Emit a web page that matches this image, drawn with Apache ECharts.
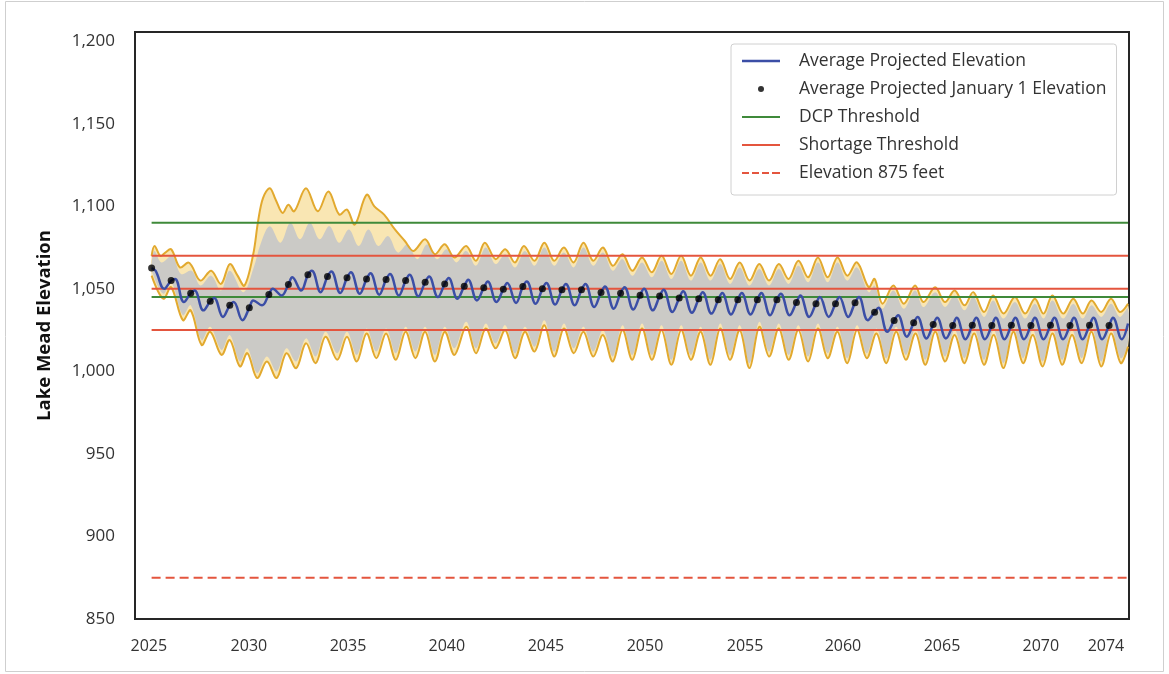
<!DOCTYPE html>
<html><head><meta charset="utf-8">
<script src="https://cdn.jsdelivr.net/npm/echarts@6/dist/echarts.min.js"></script>
<style>html,body{margin:0;padding:0;background:#fff;}#c{width:1169px;height:674px;}</style>
</head><body><div id="c"></div>
<script>
// ---------- data ----------
const years = [2025,2026,2027,2028,2029,2030,2031,2032,2033,2034,2035,2036,2037,2038,2039,2040,2041,2042,2043,2044,2045,2046,2047,2048,2049,2050,2051,2052,2053,2054,2055,2056,2057,2058,2059,2060,2061,2062,2063,2064,2065,2066,2067,2068,2069,2070,2071,2072,2073,2074];
// Average projected January 1 elevation (black dots)
const janElev = [1062.6,1055,1047.4,1042.5,1040,1038.5,1046.6,1052.7,1058.6,1057.5,1056.7,1056,1055.7,1055,1054,1053,1051.6,1050.7,1049.8,1051.5,1050,1049.5,1049.5,1047.8,1047.4,1046.2,1045.6,1044.4,1044,1043.4,1043.4,1043.4,1043.4,1041.8,1041,1041,1041.6,1035.9,1030.8,1029.4,1028.4,1027.8,1028,1027.8,1028,1027.8,1028,1027.8,1028,1027.8];
// Average projected elevation: spring high and late-summer low of each year
const springHigh = [1061,1056,1049,1044.5,1042,1043,1050,1057,1061,1060.5,1060,1059.5,1059,1058.5,1057.5,1056.5,1055.5,1054.5,1053.5,1054.5,1053.5,1053,1053,1051.5,1051,1050,1049.5,1048.5,1048,1047.5,1047.5,1047.5,1047,1046,1045,1045,1045,1038.5,1034,1033,1032.5,1032.5,1032.5,1032.5,1032.5,1032.5,1032.5,1032.5,1032.5,1032.5];
const summerLow = [1050,1042,1037,1033,1031,1040,1046,1049,1048,1047.5,1047,1046.5,1046,1045.5,1045,1044,1043,1042,1041.5,1041,1040.5,1040,1039,1038,1037.5,1037,1036,1035.5,1035,1034.5,1034.5,1034,1034,1033,1033,1033,1031,1024,1021,1020,1020,1019.5,1019.5,1019.5,1019.5,1019.5,1019.5,1019.5,1019.5,1019.5];
const lastElev = [2074.97, 1029];
// Envelope of all traces (gold outline), [year, elevation]
const upperEnv = [[2025.0,1070],[2025.15,1076],[2025.45,1070],[2025.7,1072],[2026.0,1074],[2026.45,1063],[2026.87,1066],[2027.05,1064],[2027.5,1055],[2028.05,1061],[2028.55,1053],[2029.0,1065],[2029.4,1058],[2029.75,1052],[2030.2,1071],[2030.45,1091],[2030.7,1105],[2031.05,1111],[2031.35,1104],[2031.7,1096],[2032.0,1101],[2032.3,1097],[2032.9,1111],[2033.5,1097],[2034.05,1109],[2034.6,1095],[2035.0,1098],[2035.4,1089],[2036.0,1107],[2036.4,1100],[2036.9,1095],[2037.45,1086],[2037.96,1079],[2038.4,1073],[2039.0,1080],[2039.5,1071],[2040.0,1077],[2040.5,1069],[2041.1,1076],[2041.6,1067],[2042.05,1078],[2042.6,1068],[2043.1,1074],[2043.6,1066],[2044.05,1076],[2044.6,1067],[2045.1,1078],[2045.6,1067],[2046.1,1075],[2046.6,1066],[2047.1,1078],[2047.6,1067],[2048.1,1075],[2048.6,1064],[2049.1,1071],[2049.6,1061],[2050.1,1069],[2050.6,1060],[2051.1,1070],[2051.6,1059],[2052.1,1070],[2052.6,1058],[2053.1,1069],[2053.6,1058],[2054.1,1068],[2054.6,1056],[2055.1,1066],[2055.6,1055],[2056.1,1065],[2056.6,1055],[2057.1,1065],[2057.6,1056],[2058.1,1067],[2058.6,1057],[2059.1,1069],[2059.6,1057],[2060.1,1069],[2060.6,1058],[2061.1,1066],[2061.7,1051],[2062.0,1056],[2062.4,1041],[2062.96,1052],[2063.5,1041],[2064.07,1052],[2064.5,1042],[2065.1,1051],[2065.6,1042],[2066.1,1049],[2066.6,1040],[2067.05,1048],[2067.6,1036],[2068.07,1046],[2068.6,1035],[2069.18,1045],[2069.7,1035],[2070.2,1044],[2070.65,1035],[2071.1,1046],[2071.65,1035],[2072.17,1044],[2072.65,1035],[2073.1,1043],[2073.6,1036],[2074.1,1044],[2074.55,1036],[2074.97,1041]];
const lowerEnv = [[2025.0,1058],[2025.6,1044],[2026.0,1051],[2026.6,1031],[2027.0,1037],[2027.56,1016],[2028.0,1024],[2028.58,1010],[2029.0,1019],[2029.52,1003],[2029.9,1011],[2030.4,996],[2030.9,1006],[2031.4,996],[2031.9,1011],[2032.4,1002],[2032.9,1017],[2033.4,1005],[2033.9,1021],[2034.5,1007],[2035.0,1021],[2035.5,1006],[2036.0,1023],[2036.5,1008],[2037.0,1023],[2037.5,1007],[2038.0,1024],[2038.5,1008],[2039.0,1024],[2039.5,1006],[2040.0,1024],[2040.5,1010],[2041.1,1027],[2041.6,1011],[2042.1,1026],[2042.6,1014],[2043.1,1025],[2043.6,1008],[2044.1,1024],[2044.6,1012],[2045.1,1028],[2045.6,1009],[2046.1,1026],[2046.6,1011],[2047.1,1024],[2047.6,1009],[2048.1,1022],[2048.6,1006],[2049.1,1025],[2049.6,1007],[2050.1,1026],[2050.6,1007],[2051.1,1025],[2051.6,1004],[2052.1,1025],[2052.6,1007],[2053.1,1024],[2053.6,1004],[2054.1,1026],[2054.6,1007],[2055.1,1025],[2055.6,1002],[2056.1,1027],[2056.6,1009],[2057.1,1026],[2057.6,1007],[2058.1,1025],[2058.6,1006],[2059.1,1026],[2059.6,1008],[2060.1,1024],[2060.6,1005],[2061.1,1025],[2061.6,1008],[2062.1,1023],[2062.6,1005],[2063.1,1024],[2063.6,1007],[2064.1,1023],[2064.6,1004],[2065.1,1024],[2065.6,1006],[2066.1,1022],[2066.6,1005],[2067.1,1023],[2067.6,1004],[2068.1,1022],[2068.6,1002],[2069.1,1024],[2069.6,1005],[2070.1,1022],[2070.6,1003],[2071.1,1023],[2071.6,1004],[2072.1,1022],[2072.6,1005],[2073.1,1024],[2073.6,1003],[2074.1,1023],[2074.6,1005],[2074.97,1015]];
// Dense grey trace region inside the envelope
const grayTop = [[2025.0,1066],[2025.15,1073],[2025.5,1066],[2026.05,1070],[2026.5,1059],[2027.05,1061],[2027.5,1052],[2028.05,1058],[2028.55,1049],[2029.0,1061],[2029.7,1048],[2030.2,1062],[2030.6,1078],[2031.05,1088],[2031.6,1078],[2032.1,1090],[2032.6,1080],[2033.1,1090],[2033.6,1080],[2034.1,1088],[2034.6,1078],[2035.1,1086],[2035.6,1076],[2036.1,1086],[2036.6,1076],[2037.1,1082],[2037.6,1072],[2038.1,1077],[2038.6,1068],[2039.1,1077],[2039.6,1068],[2040.1,1074],[2040.6,1066],[2041.1,1073],[2041.6,1064],[2042.1,1075],[2042.6,1065],[2043.1,1071],[2043.6,1063],[2044.1,1073],[2044.6,1064],[2045.1,1075],[2045.6,1064],[2046.1,1072],[2046.6,1063],[2047.1,1075],[2047.6,1064],[2048.1,1072],[2048.6,1061],[2049.1,1068],[2049.6,1058],[2050.1,1066],[2050.6,1057],[2051.1,1067],[2051.6,1056],[2052.1,1067],[2052.6,1055],[2053.1,1066],[2053.6,1055],[2054.1,1065],[2054.6,1053],[2055.1,1063],[2055.6,1052],[2056.1,1062],[2056.6,1052],[2057.1,1062],[2057.6,1053],[2058.1,1064],[2058.6,1054],[2059.1,1066],[2059.6,1054],[2060.1,1066],[2060.6,1055],[2061.1,1063],[2061.7,1048],[2062.0,1052],[2062.4,1038],[2062.96,1049],[2063.5,1038],[2064.07,1049],[2064.5,1039],[2065.1,1048],[2065.6,1039],[2066.1,1046],[2066.6,1037],[2067.05,1045],[2067.6,1033],[2068.07,1043],[2068.6,1032],[2069.18,1042],[2069.7,1032],[2070.2,1041],[2070.65,1032],[2071.1,1043],[2071.65,1032],[2072.17,1041],[2072.65,1032],[2073.1,1040],[2073.6,1033],[2074.1,1041],[2074.55,1033],[2074.97,1038]];
const grayBottom = [[2025.0,1061],[2025.6,1047],[2026.0,1054],[2026.6,1034],[2027.0,1040],[2027.56,1019],[2028.0,1027],[2028.58,1013],[2029.0,1022],[2029.52,1006],[2029.9,1014],[2030.4,999],[2030.9,1009],[2031.4,1000],[2031.9,1014],[2032.4,1006],[2032.9,1020],[2033.4,1009],[2033.9,1024],[2034.5,1011],[2035.0,1024],[2035.5,1010],[2036.0,1026],[2036.5,1012],[2037.0,1026],[2037.5,1011],[2038.0,1027],[2038.5,1012],[2039.0,1027],[2039.5,1010],[2040.0,1027],[2040.5,1014],[2041.1,1030],[2041.6,1014],[2042.1,1029],[2042.6,1017],[2043.1,1028],[2043.6,1011],[2044.1,1027],[2044.6,1015],[2045.1,1031],[2045.6,1012],[2046.1,1029],[2046.6,1014],[2047.1,1027],[2047.6,1012],[2048.1,1025],[2048.6,1009],[2049.1,1028],[2049.6,1010],[2050.1,1029],[2050.6,1010],[2051.1,1028],[2051.6,1007],[2052.1,1028],[2052.6,1010],[2053.1,1027],[2053.6,1007],[2054.1,1029],[2054.6,1010],[2055.1,1028],[2055.6,1005],[2056.1,1030],[2056.6,1012],[2057.1,1029],[2057.6,1010],[2058.1,1028],[2058.6,1009],[2059.1,1029],[2059.6,1011],[2060.1,1027],[2060.6,1008],[2061.1,1028],[2061.6,1011],[2062.1,1026],[2062.6,1008],[2063.1,1027],[2063.6,1010],[2064.1,1026],[2064.6,1007],[2065.1,1027],[2065.6,1009],[2066.1,1025],[2066.6,1008],[2067.1,1026],[2067.6,1007],[2068.1,1025],[2068.6,1005],[2069.1,1027],[2069.6,1008],[2070.1,1025],[2070.6,1006],[2071.1,1026],[2071.6,1007],[2072.1,1025],[2072.6,1008],[2073.1,1027],[2073.6,1006],[2074.1,1026],[2074.6,1008],[2074.97,1018]];
// Thresholds
const dcpThresholds = [1090, 1045];
const shortageThresholds = [1070, 1050, 1025];
const elev875 = 875;
const lineSpan = [2025.0, 2074.97];
// Axis ticks
const yTicks = [850, 900, 950, 1000, 1050, 1100, 1150, 1200];
const xTickLabels = ['2025','2030','2035','2040','2045','2050','2055','2060','2065','2070','2074'];
const xTickPos = [2024.86, 2029.98, 2035.05, 2040.11, 2045.18, 2050.25, 2055.37, 2060.38, 2065.45, 2070.51, 2073.84];

// ---------- build ----------
const FONT = 'Open Sans';
const avgLine = [];
years.forEach((y, i) => {
  avgLine.push([y, janElev[i]]);
  avgLine.push([y + 0.2, springHigh[i]]);
  avgLine.push([y + 0.65, summerLow[i]]);
});
avgLine.push(lastElev);
const dots = years.map((y, i) => [y, janElev[i]]);

function bandSeries(top, bottom, fill, stroke, z) {
  return {
    type: 'custom', silent: true, z: z, clip: true,
    data: [[2050, 1040]], encode: { x: 0, y: 1 },
    renderItem: function (params, api) {
      const tp = top.map(p => api.coord(p));
      const bp = bottom.map(p => api.coord(p));
      const children = [{
        type: 'polygon',
        shape: { points: tp.concat(bp.slice().reverse()), smooth: 0.35 },
        style: { fill: fill, stroke: 'none' }
      }];
      if (stroke) {
        children.push({ type: 'polyline', shape: { points: tp, smooth: 0.35 }, style: { fill: 'none', stroke: stroke, lineWidth: 2 } });
        children.push({ type: 'polyline', shape: { points: bp, smooth: 0.35 }, style: { fill: 'none', stroke: stroke, lineWidth: 2 } });
      }
      return { type: 'group', children: children };
    }
  };
}
function hLine(name, v, color, type) {
  return {
    name: name, type: 'line', z: 3, symbol: 'none', silent: true,
    data: [[lineSpan[0], v], [lineSpan[1], v]],
    lineStyle: { color: color, width: 2, type: type || 'solid' },
    itemStyle: { color: color }
  };
}
const BLUE = '#3b4ea6', GREEN = '#3f8a3a', RED = '#e4553e', GOLD = '#e2a92e';
const series = [
  bandSeries(upperEnv, lowerEnv, '#f9e6b3', null, 1),
  bandSeries(grayTop, grayBottom, '#cbcac6', null, 2),
  bandSeries(upperEnv, lowerEnv, 'rgba(0,0,0,0)', GOLD, 2),
];
dcpThresholds.forEach(v => series.push(hLine('DCP Threshold', v, GREEN)));
shortageThresholds.forEach(v => series.push(hLine('Shortage Threshold', v, RED)));
series.push(hLine('Elevation 875 feet', elev875, RED, [9, 5]));
series.push({
  name: 'Average Projected Elevation', type: 'line', z: 4, symbol: 'none', smooth: 0.4,
  data: avgLine, lineStyle: { color: BLUE, width: 2.5 }, itemStyle: { color: BLUE }
});
series.push({
  name: 'Average Projected January 1 Elevation', type: 'scatter', z: 5, symbolSize: 7,
  data: dots, itemStyle: { color: '#000' }
});

const chart = echarts.init(document.getElementById('c'), null, { renderer: 'canvas' });
chart.setOption({
  animation: false,
  backgroundColor: '#fff',
  graphic: [{ type: 'rect', shape: { x: 5.5, y: 1.5, width: 1158, height: 670 }, style: { fill: 'none', stroke: '#cfcfcf', lineWidth: 1 }, silent: true }],
  grid: { left: 135, right: 40, top: 32, bottom: 55, show: true, borderColor: '#262626', borderWidth: 2, backgroundColor: '#fff' },
  xAxis: {
    type: 'value', min: 2024.15, max: 2075.02,
    splitLine: { show: false }, axisLine: { show: false }, axisTick: { show: false },
    axisLabel: {
      customValues: xTickPos, margin: 19, color: '#333', fontFamily: FONT, fontSize: 16,
      formatter: function (v) { let k = 0, d = 1e9; xTickPos.forEach((p, i) => { if (Math.abs(p - v) < d) { d = Math.abs(p - v); k = i; } }); return xTickLabels[k]; }
    }
  },
  yAxis: {
    type: 'value', min: 850, max: 1205.6,
    name: 'Lake Mead Elevation', nameLocation: 'middle', nameGap: 81,
    nameTextStyle: { fontFamily: FONT, fontSize: 18.5, fontWeight: 'bold', color: '#111' },
    splitLine: { show: false }, axisLine: { show: false }, axisTick: { show: false },
    axisLabel: {
      customValues: yTicks, margin: 20, color: '#333', fontFamily: FONT, fontSize: 17,
      formatter: v => v.toLocaleString('en-US')
    }
  },
  legend: {
    orient: 'vertical', left: 731, top: 44,
    padding: [8, 10, 13, 11],
    backgroundColor: '#fff', borderColor: '#d0d0d0', borderWidth: 1, borderRadius: 3,
    itemWidth: 38, itemHeight: 6, itemGap: 10, symbolKeepAspect: true,
    itemStyle: { borderWidth: 0 },
    textStyle: { fontFamily: FONT, fontSize: 17.5, color: '#333', lineHeight: 18, padding: [0, 0, 0, 14] },
    selectedMode: false,
    data: [
      { name: 'Average Projected Elevation', icon: 'path://M0,0h38v2.4h-38z', itemStyle: { color: BLUE } },
      { name: 'Average Projected January 1 Elevation', icon: 'path://M0,3a3,3 0 1,0 6,0a3,3 0 1,0 -6,0z', itemStyle: { color: '#000' } },
      { name: 'DCP Threshold', icon: 'path://M0,0h38v2h-38z', itemStyle: { color: GREEN } },
      { name: 'Shortage Threshold', icon: 'path://M0,0h38v2h-38z', itemStyle: { color: RED } },
      { name: 'Elevation 875 feet', icon: 'path://M0,0h7v2h-7z M10,0h7v2h-7z M20,0h7v2h-7z M30,0h8v2h-8z', itemStyle: { color: RED } }
    ]
  },
  series: series
});
</script></body></html>
